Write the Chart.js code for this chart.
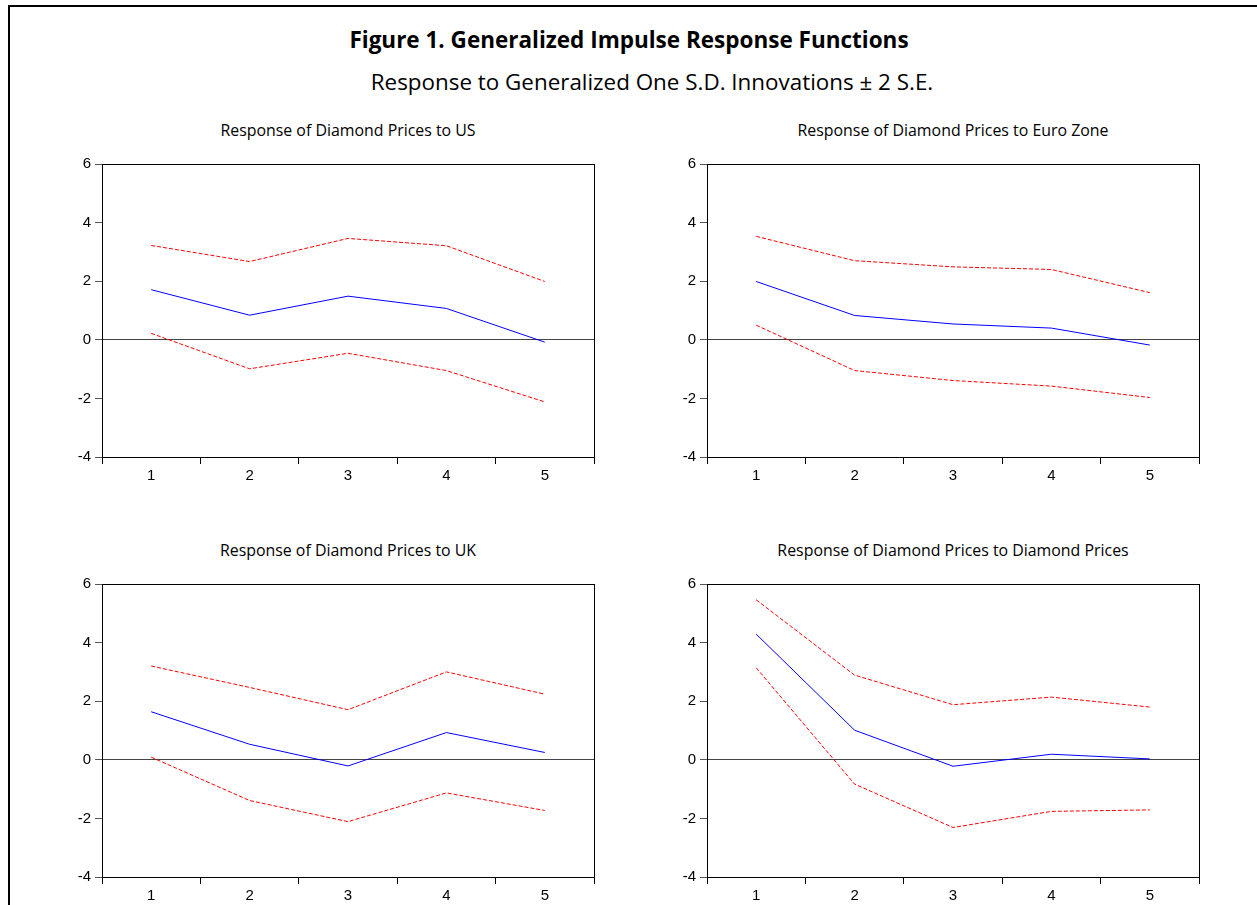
<!DOCTYPE html>
<html>
<head>
<meta charset="utf-8">
<script src="https://cdn.jsdelivr.net/npm/chart.js@4.4.1/dist/chart.umd.min.js"></script>
<style>
  html, body { margin: 0; padding: 0; background: #fff; }
  body { width: 1257px; height: 905px; position: relative; overflow: hidden; }
  .frame { position: absolute; left: 8px; top: 5px; width: 1400px; height: 1000px; border: 2px solid #000; box-sizing: border-box; }
  .txt { position: absolute; white-space: nowrap; text-align: center; color: #000; font-family: "Open Sans", Lato, sans-serif; transform: translateX(-50%); line-height: 30px; height: 30px; }
  .main { font-weight: bold; font-size: 22.5px; }
  .sub { font-size: 22.4px; }
  .ptitle { font-size: 15.9px; }
  .panel { position: absolute; }
</style>
</head>
<body>
<div class="frame"></div>
<div class="txt main" style="left:629px; top:25px;">Figure 1. Generalized Impulse Response Functions</div>
<div class="txt sub" style="left:652px; top:67px;">Response to Generalized One S.D. Innovations ± 2 S.E.</div>
<div id="root"></div>
<script>
// Forecast horizon (periods)
const periods = ['1', '2', '3', '4', '5'];

// Y-axis range and tick spacing shared by all four panels
const yMin = -4;
const yMax = 6;
const yStep = 2;

// Panel titles
const panelTitles = [
  'Response of Diamond Prices to US',
  'Response of Diamond Prices to Euro Zone',
  'Response of Diamond Prices to UK',
  'Response of Diamond Prices to Diamond Prices'
];

// Response of Diamond Prices to US
const usResponse = [1.71, 0.84, 1.49, 1.07, -0.08];
const usUpper    = [3.22, 2.67, 3.46, 3.21, 1.99];
const usLower    = [0.22, -0.99, -0.46, -1.05, -2.12];

// Response of Diamond Prices to Euro Zone
const euResponse = [1.99, 0.83, 0.54, 0.40, -0.18];
const euUpper    = [3.53, 2.70, 2.49, 2.40, 1.61];
const euLower    = [0.50, -1.05, -1.39, -1.58, -1.97];

// Response of Diamond Prices to UK
const ukResponse = [1.64, 0.53, -0.21, 0.93, 0.25];
const ukUpper    = [3.20, 2.47, 1.71, 3.00, 2.24];
const ukLower    = [0.09, -1.39, -2.11, -1.13, -1.73];

// Response of Diamond Prices to Diamond Prices
const dpResponse = [4.29, 1.01, -0.22, 0.19, 0.03];
const dpUpper    = [5.46, 2.89, 1.88, 2.14, 1.80];
const dpLower    = [3.14, -0.83, -2.31, -1.76, -1.71];

const panels = [
  { title: panelTitles[0], resp: usResponse, up: usUpper, lo: usLower, left: 102, top: 163 },
  { title: panelTitles[1], resp: euResponse, up: euUpper, lo: euLower, left: 707, top: 163 },
  { title: panelTitles[2], resp: ukResponse, up: ukUpper, lo: ukLower, left: 102, top: 583 },
  { title: panelTitles[3], resp: dpResponse, up: dpUpper, lo: dpLower, left: 707, top: 583 }
];

// Plot-area geometry
const plotW = 492, plotH = 294;
const yAxisW = 62, xAxisH = 32, padTop = 12, padRight = 12;

// Full box around each plot area
const boxPlugin = {
  id: 'box',
  afterDraw(chart) {
    const a = chart.chartArea, ctx = chart.ctx;
    ctx.save();
    ctx.strokeStyle = '#000';
    ctx.lineWidth = 1;
    ctx.strokeRect(Math.round(a.left) + 0.5, Math.round(a.top) + 0.5,
                   Math.round(a.right - a.left), Math.round(a.bottom - a.top));
    ctx.restore();
  }
};

const tickFont = { family: '"Liberation Sans", Arial, sans-serif', size: 15 };
const root = document.getElementById('root');

panels.forEach(p => {
  const t = document.createElement('div');
  t.className = 'txt ptitle';
  t.style.left = (p.left + plotW / 2) + 'px';
  t.style.top = (p.top - 48) + 'px';
  t.textContent = p.title;
  root.appendChild(t);

  const w = yAxisW + plotW + padRight;
  const h = padTop + plotH + xAxisH;
  const box = document.createElement('div');
  box.className = 'panel';
  box.style.left = (p.left - yAxisW) + 'px';
  box.style.top = (p.top - padTop) + 'px';
  box.style.width = w + 'px';
  box.style.height = h + 'px';
  const cv = document.createElement('canvas');
  box.appendChild(cv);
  root.appendChild(box);

  new Chart(cv, {
    type: 'line',
    data: {
      labels: periods,
      datasets: [
        { data: p.resp, borderColor: '#0000ff', borderWidth: 1, pointRadius: 0, tension: 0, fill: false },
        { data: p.up, borderColor: '#ff0000', borderWidth: 1, borderDash: [4, 2], pointRadius: 0, tension: 0, fill: false },
        { data: p.lo, borderColor: '#ff0000', borderWidth: 1, borderDash: [4, 2], pointRadius: 0, tension: 0, fill: false }
      ]
    },
    options: {
      responsive: true,
      maintainAspectRatio: false,
      animation: false,
      layout: { padding: { top: padTop, right: padRight, left: 0, bottom: 0 } },
      plugins: { legend: { display: false }, tooltip: { enabled: false }, title: { display: false } },
      scales: {
        x: {
          type: 'category',
          offset: true,
          border: { display: false },
          grid: { offset: true, drawOnChartArea: false, drawTicks: true, tickLength: 7, color: '#000', tickColor: '#000', tickWidth: 1 },
          ticks: { font: tickFont, color: '#000', padding: 3, maxRotation: 0 },
          afterFit(s) { s.height = xAxisH; }
        },
        y: {
          min: yMin,
          max: yMax,
          border: { display: false },
          grid: {
            drawTicks: true,
            tickLength: 7,
            color: c => (c.tick && c.tick.value === 0) ? '#444' : 'rgba(0,0,0,0)',
            tickColor: '#555',
            lineWidth: 1
          },
          ticks: { stepSize: yStep, font: tickFont, color: '#000', padding: 4 },
          afterFit(s) { s.width = yAxisW; }
        }
      }
    },
    plugins: [boxPlugin]
  });
});
</script>
</body>
</html>
